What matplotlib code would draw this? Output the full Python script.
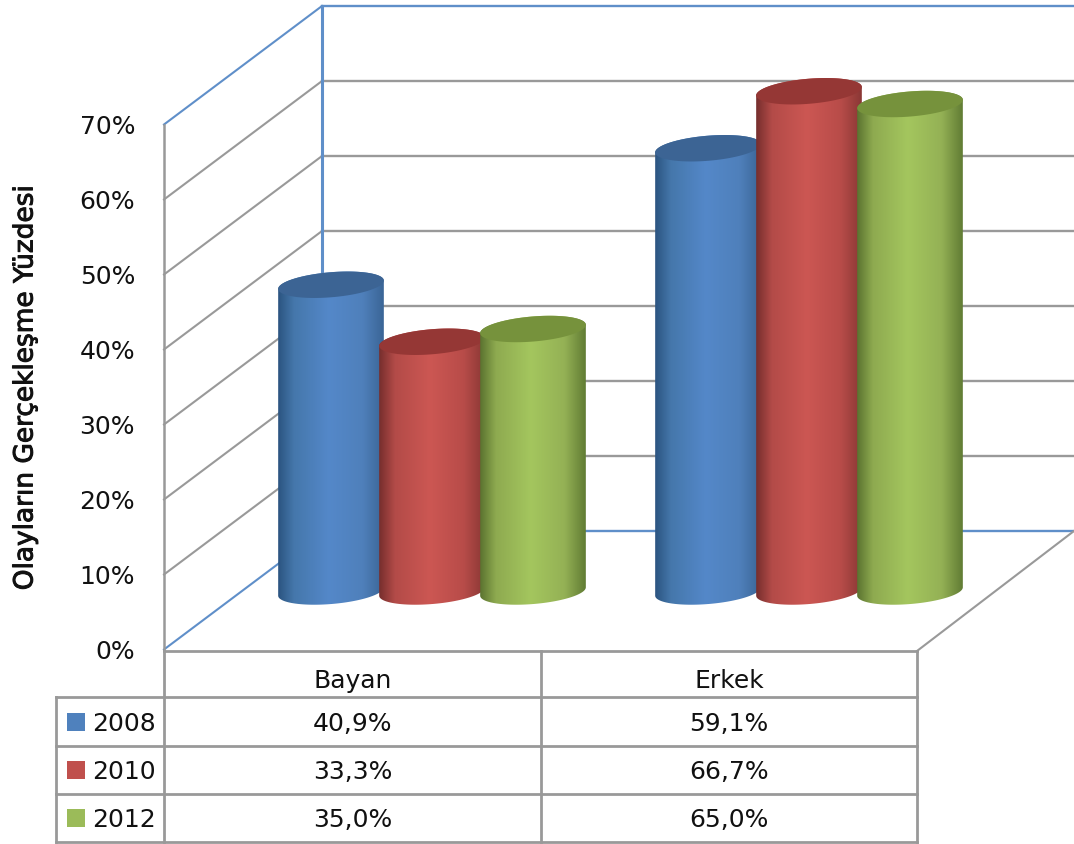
import numpy as np
import matplotlib
matplotlib.use("Agg")
import matplotlib.pyplot as plt
import matplotlib.patheffects as pe
from matplotlib.patches import Polygon, Rectangle

plt.rcParams['font.family'] = ['DejaVu Sans']

categories = ["Bayan", "Erkek"]
years = ["2008", "2010", "2012"]
values_2008 = [40.9, 59.1]
values_2010 = [33.3, 66.7]
values_2012 = [35.0, 65.0]
ticks = [0, 10, 20, 30, 40, 50, 60, 70]
ylabel = "Olayların Gerçekleşme Yüzdesi"

series = [values_2008, values_2010, values_2012]
legend_colors = ["#4f81bd", "#c0504d", "#9bbb59"]
cap_colors = ["#3c6494", "#953735", "#76923c"]
# left edge, left mid, centre, right mid, right edge
side_colors = [
    ["#2b5480", "#4577ab", "#5488c9", "#4f80bb", "#3a6596"],
    ["#762e2d", "#b34b48", "#cc5753", "#b84c49", "#8a3735"],
    ["#5b7330", "#8eaa50", "#a4c65e", "#94b155", "#617c34"],
]

GRAY = "#999999"
BLUE = "#5f8fc9"
PX = 7.5          # pixels for one percent
BASE = 592.5      # pixel row of 0% on the bar plane
FRONT = (BASE - 650.5) / PX   # wall offset in percent
BACK = (BASE - 532) / PX
X_FRONT, X_BACK = 164, 322
X_RIGHT_F, X_RIGHT_B = 917, 1074
BAR_W = 106
BAR_STEP = 101
GROUP_X = [278, 655]
TILT = np.radians(-4.8)
MINOR = 12.5


def ellipse_points(cx, cy, t):
    a = BAR_W / 2
    x = cx + a * np.cos(t) * np.cos(TILT) - MINOR * np.sin(t) * np.sin(TILT)
    y = cy + a * np.cos(t) * np.sin(TILT) + MINOR * np.sin(t) * np.cos(TILT)
    return x, y


def draw_cylinder(ax, left, value, side, cap, z):
    cx = left + BAR_W / 2
    top = BASE - value * PX
    # parameter of the extreme x points of the tilted ellipse
    t0 = np.arctan2(-MINOR * np.sin(TILT), BAR_W / 2 * np.cos(TILT))
    t = np.linspace(t0, t0 + np.pi, 80)
    xb, yb = ellipse_points(cx, BASE, t)
    xt, yt = ellipse_points(cx, top, t + np.pi)
    xy = np.r_[np.c_[xb, (BASE - yb) / PX], np.c_[xt, (BASE - yt) / PX]]
    pos = np.linspace(0, 1, 200)
    stops = [0, 0.15, 0.48, 0.8, 1]
    rgb = np.array([matplotlib.colors.to_rgb(c) for c in side])
    grad = np.stack([np.interp(pos, stops, rgb[:, k]) for k in range(3)], axis=1)[None, :, :]
    im = ax.imshow(grad, extent=[left, left + BAR_W, -MINOR, value + MINOR], aspect="auto", zorder=z)
    clip = Polygon(xy, closed=True, transform=ax.transData)
    im.set_clip_path(clip)
    tt = np.linspace(0, 2 * np.pi, 120)
    xc, yc = ellipse_points(cx, top, tt)
    ax.add_patch(Polygon(np.c_[xc, (BASE - yc) / PX], closed=True, fc=cap, ec="none", zorder=z + 0.1))


fig = plt.figure(figsize=(10.74, 8.45), dpi=100)
ax = fig.add_axes([0, 0, 1, 1])
ax.axis("off")

# walls
for v in ticks:
    c = BLUE if v == 70 else GRAY
    ax.plot([X_FRONT, X_BACK], [v + FRONT, v + BACK], color=c if v else BLUE, lw=1.5, zorder=1)
    if v:
        ax.plot([X_BACK, X_RIGHT_B], [v + BACK, v + BACK], color=c, lw=1.7, zorder=1)
ax.plot([X_BACK, X_RIGHT_B], [BACK, BACK], color=BLUE, lw=1.7, zorder=1)
ax.plot([X_BACK, X_BACK], [BACK, 70 + BACK], color=BLUE, lw=2.2, zorder=1)
ax.plot([X_FRONT, X_FRONT], [FRONT, 70 + FRONT], color=GRAY, lw=1.8, zorder=1)
ax.plot([X_RIGHT_F, X_RIGHT_B], [FRONT - 0.2, BACK], color=GRAY, lw=1.5, zorder=1)

for v in ticks:
    ax.text(135, v + FRONT - 0.2, f"{v}%", ha="right", va="center", fontsize=18, color="#111111")
ax.text(25.5, 27.2, ylabel, rotation=90, ha="center", va="center", fontsize=19, color="#111111",
        path_effects=[pe.withStroke(linewidth=0.7, foreground="#111111")])

# bars
for g in range(len(categories)):
    for i in range(len(series)):
        draw_cylinder(ax, GROUP_X[g] + i * BAR_STEP, series[i][g], side_colors[i], cap_colors[i], 3 + i)

ax.set_xlim(0, 1074)
ax.set_ylim((BASE - 845) / PX, BASE / PX)

# data table, in pixel rows
tb = fig.add_axes([0, 0, 1, 1])
tb.axis("off")
tb.patch.set_alpha(0)
tb.set_xlim(0, 1074)
tb.set_ylim(845, 0)

rows_y = [652, 698, 747, 795, 842.5]
cols_x = [164, 541, 917]
LEFT = 56
for i, y in enumerate(rows_y):
    tb.plot([X_FRONT if i == 0 else LEFT, cols_x[-1]], [y, y], color=GRAY, lw=2)
for x in cols_x:
    tb.plot([x, x], [rows_y[0], rows_y[-1]], color=GRAY, lw=2)
tb.plot([LEFT, LEFT], [rows_y[1], rows_y[-1]], color=GRAY, lw=2)

for j, cat in enumerate(categories):
    xc = (cols_x[j] + cols_x[j + 1]) / 2
    tb.text(xc, 681, cat, ha="center", va="center", fontsize=18, color="#111111")
    for i in range(len(series)):
        yc = (rows_y[i + 1] + rows_y[i + 2]) / 2
        label = f"{series[i][j]:.1f}%".replace(".", ",")
        tb.text(xc, yc + 1.5, label, ha="center", va="center", fontsize=18, color="#111111")

for i, yr in enumerate(years):
    yc = (rows_y[i + 1] + rows_y[i + 2]) / 2
    tb.add_patch(Rectangle((67, yc - 9), 18, 18, fc=legend_colors[i], ec="none"))
    tb.text(92, yc + 1.5, yr, ha="left", va="center", fontsize=18, color="#111111")

fig.savefig("out.png", dpi=100)
